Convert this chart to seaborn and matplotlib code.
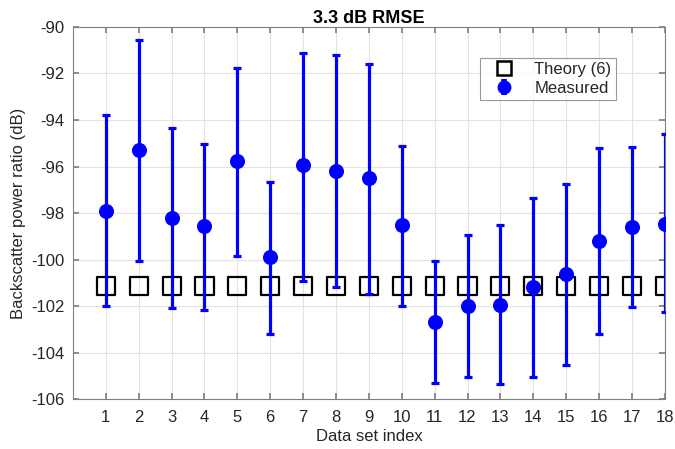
import numpy as np
import pandas as pd
import matplotlib
matplotlib.use("Agg")
import matplotlib.pyplot as plt
from matplotlib.lines import Line2D
import seaborn as sns

# Data set indices and values (dB)
data_index = list(range(1, 19))
measured = [-97.9, -95.3, -98.2, -98.55, -95.75, -99.9, -95.95, -96.2, -96.5,
            -98.5, -102.7, -102.0, -101.95, -101.2, -100.6, -99.2, -98.6, -98.45]
upper = [-93.8, -90.55, -94.35, -95.05, -91.75, -96.65, -91.1, -91.2, -91.6,
         -95.1, -100.05, -98.95, -98.5, -97.35, -96.75, -95.2, -95.15, -94.6]
lower = [-102.0, -100.05, -102.1, -102.15, -99.85, -103.2, -100.9, -101.2, -101.5,
         -102.0, -105.3, -105.05, -105.35, -105.05, -104.55, -103.2, -102.05, -102.25]
theory = [-101.15] * 18

df = pd.DataFrame({"index": data_index, "measured": measured,
                   "upper": upper, "lower": lower, "theory": theory})

sns.set_theme(style="whitegrid")
plt.rcParams["font.family"] = ["Liberation Sans", "DejaVu Sans"]
plt.rcParams["axes.unicode_minus"] = False

fig = plt.figure(figsize=(6.75, 4.49), dpi=100)
ax = fig.add_axes([0.108, 0.111, 0.877, 0.829])

blue = "#0000ff"
err = np.vstack([df["measured"] - df["lower"], df["upper"] - df["measured"]])
ax.errorbar(df["index"], df["measured"], yerr=err, fmt="none", ecolor=blue,
            elinewidth=2.3, capsize=3, capthick=2.3, zorder=3)
sns.scatterplot(data=df, x="index", y="theory", ax=ax, marker="s", s=170,
                facecolor="none", edgecolor="black", linewidth=1.6, zorder=2,
                legend=False)
sns.scatterplot(data=df, x="index", y="measured", ax=ax, marker="o", s=100,
                color=blue, edgecolor=blue, zorder=4, legend=False)

ax.set_xlim(0, 18)
ax.set_ylim(-106, -90)
ax.set_xticks(data_index)
ax.set_yticks(np.arange(-106, -89, 2))
ax.grid(True, color="#e3e3e3", linewidth=0.8)
for s in ax.spines.values():
    s.set_color("#808080")
    s.set_linewidth(0.8)
    s.set_visible(True)
ax.set_facecolor("white")
ax.tick_params(direction="in", length=4, color="#808080", labelsize=12,
               labelcolor="#262626", top=True, right=True, bottom=True, left=True,
               labeltop=False, labelright=False)
ax.tick_params(axis="x", pad=8)
ax.tick_params(axis="y", pad=6)
ax.set_xlabel("Data set index", fontsize=12, color="#262626", labelpad=3)
ax.set_ylabel("Backscatter power ratio (dB)", fontsize=12, color="#262626", labelpad=4)
ax.set_title("3.3 dB RMSE", fontsize=13, fontweight="bold", color="black", pad=3)

handles = [
    Line2D([], [], marker="s", markersize=10, markerfacecolor="none",
           markeredgecolor="black", markeredgewidth=1.8, linestyle="none"),
    (Line2D([], [], marker="|", markersize=12, markeredgewidth=4, color=blue,
            linestyle="none"),
     Line2D([], [], marker="o", markersize=9, color=blue, linestyle="none")),
]
leg = ax.legend(handles, ["Theory (6)", "Measured"], loc="upper left",
                bbox_to_anchor=(0.688, 0.917), fontsize=12, frameon=True,
                fancybox=False, edgecolor="#808080", borderpad=0.25,
                handlelength=2.4, handletextpad=0.6, labelspacing=0.22,
                borderaxespad=0)
leg.get_frame().set_linewidth(0.8)

fig.savefig("out.png", dpi=100, facecolor="white")
